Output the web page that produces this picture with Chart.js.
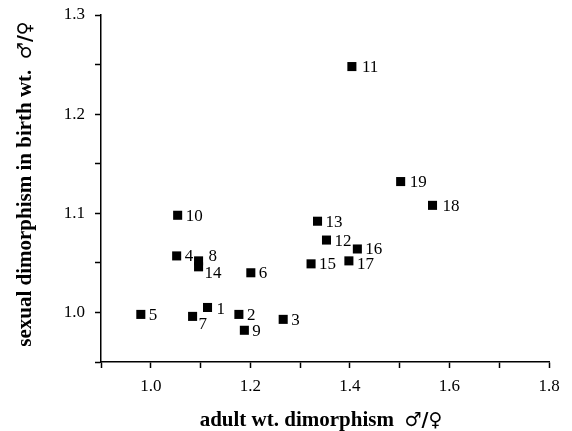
<!DOCTYPE html>
<html>
<head>
<meta charset="utf-8">
<script src="https://cdn.jsdelivr.net/npm/chart.js@4"></script>
<style>
  html, body { margin: 0; padding: 0; background: #fff; }
  #wrap { width: 572px; height: 431px; }
</style>
</head>
<body>
<div id="wrap"><canvas id="dimChart" width="572" height="431"></canvas></div>
<script>
// species numbers and their dimorphism ratios
const speciesIds = ["1", "2", "3", "4", "5", "6", "7", "8", "9", "10",
                    "11", "12", "13", "14", "15", "16", "17", "18", "19"];
const adultDimorphism = [1.114, 1.177, 1.266, 1.052, 0.980, 1.201, 1.084, 1.096, 1.188, 1.054,
                         1.404, 1.353, 1.335, 1.096, 1.322, 1.415, 1.398, 1.566, 1.502];
const birthDimorphism = [1.005, 0.998, 0.993, 1.057, 0.998, 1.040, 0.996, 1.052, 0.982, 1.098,
                         1.248, 1.073, 1.092, 1.046, 1.049, 1.064, 1.052, 1.108, 1.132];
const xLabelTicks = [1.0, 1.2, 1.4, 1.6, 1.8];
const yLabelTicks = [1.0, 1.1, 1.2, 1.3];

const xTitle = "adult wt. dimorphism";
const yTitle = "sexual dimorphism in birth wt.";
const sexRatio = "\u2642/\u2640";

// a few labels sit off the usual spot so they don't collide
const labelNudge = {
    "7": [6, 7], "8": [10, -5], "14": [6, 6], "17": [8, 3],
    "11": [10, 0], "18": [10, 0], "19": [9, 0], "1": [9, 1]
};

const points = adultDimorphism.map((x, i) => ({ x: x, y: birthDimorphism[i] }));

const near = (v, list) => list.some(t => Math.abs(t - v) < 1e-6);

const SERIF = "'Liberation Serif', 'Times New Roman', serif";
const titleFont = "bold 21px " + SERIF;
const symbolFont = "bold 19px 'DejaVu Sans', sans-serif";

// number beside each square
const pointLabels = {
    id: "pointLabels",
    afterDatasetsDraw(chart) {
        const ctx = chart.ctx;
        const meta = chart.getDatasetMeta(0);
        ctx.save();
        ctx.fillStyle = "#000";
        ctx.font = "17px " + SERIF;
        ctx.textAlign = "left";
        ctx.textBaseline = "middle";
        meta.data.forEach((pt, i) => {
            const id = speciesIds[i];
            const d = labelNudge[id] || [8, 0];
            ctx.fillText(id, pt.x + d[0], pt.y + d[1] + 1);
        });
        ctx.restore();
    }
};

// title text followed by the sex symbols, centred on (0,0) of the current transform
function drawTitle(ctx, text) {
    ctx.font = titleFont;
    const w1 = ctx.measureText(text + "  ").width;
    ctx.font = symbolFont;
    const w2 = ctx.measureText(sexRatio).width;
    let x = -(w1 + w2) / 2;
    ctx.textAlign = "left";
    ctx.textBaseline = "alphabetic";
    ctx.font = titleFont;
    ctx.fillText(text, x, 7);
    ctx.font = symbolFont;
    ctx.fillText(sexRatio, x + w1, 7);
}

// axis titles drawn by hand
const axisTitles = {
    id: "axisTitles",
    afterDraw(chart) {
        const ctx = chart.ctx;
        ctx.save();
        ctx.fillStyle = "#000";
        ctx.translate(321, 419);
        drawTitle(ctx, xTitle);
        ctx.restore();
        ctx.save();
        ctx.fillStyle = "#000";
        ctx.translate(24, 184);
        ctx.rotate(-Math.PI / 2);
        drawTitle(ctx, yTitle);
        ctx.restore();
    }
};

new Chart(document.getElementById("dimChart"), {
    type: "scatter",
    data: {
        datasets: [{
            data: points,
            pointStyle: "rect",
            pointRadius: 6.4,
            pointHoverRadius: 6.4,
            backgroundColor: "#000",
            borderColor: "#000",
            borderWidth: 0
        }]
    },
    options: {
        responsive: false,
        animation: false,
        events: [],
        layout: { padding: { top: 15, right: 23, left: 0, bottom: 0 } },
        plugins: { legend: { display: false }, tooltip: { enabled: false } },
        scales: {
            x: {
                type: "linear",
                min: 0.9,
                max: 1.8,
                afterFit: s => { s.height = 69; s.paddingLeft = 0; s.paddingRight = 0; },
                border: { color: "#000", width: 1.5 },
                grid: { drawOnChartArea: false, drawTicks: true, tickLength: 6, tickColor: "#000", tickWidth: 1.5 },
                ticks: {
                    stepSize: 0.1,
                    autoSkip: false,
                    maxRotation: 0,
                    padding: 8,
                    color: "#000",
                    font: { family: SERIF, size: 17 },
                    callback: v => near(v, xLabelTicks) ? v.toFixed(1) : ""
                }
            },
            y: {
                type: "linear",
                min: 0.95,
                max: 1.3,
                afterFit: s => { s.width = 101; s.paddingTop = 0; s.paddingBottom = 0; },
                border: { color: "#000", width: 1.5 },
                grid: { drawOnChartArea: false, drawTicks: true, tickLength: 6, tickColor: "#000", tickWidth: 1.5 },
                ticks: {
                    stepSize: 0.05,
                    autoSkip: false,
                    padding: 10,
                    color: "#000",
                    font: { family: SERIF, size: 17 },
                    callback: v => near(v, yLabelTicks) ? v.toFixed(1) : ""
                }
            }
        }
    },
    plugins: [pointLabels, axisTitles]
});
</script>
</body>
</html>
